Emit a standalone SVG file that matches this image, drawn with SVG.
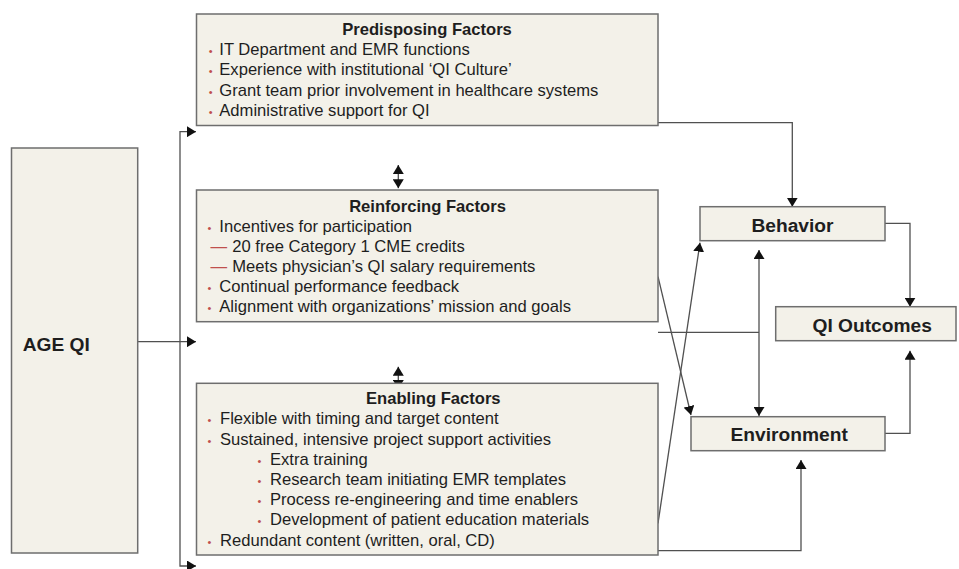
<svg xmlns="http://www.w3.org/2000/svg" width="959" height="569" viewBox="0 0 959 569">
  <style>
    .box { fill: #f3f1e9; stroke: #6e6e6e; stroke-width: 1.5; }
    .txt { font-family: "Liberation Sans", Arial, sans-serif; font-size: 16.6px; fill: #1e1e1e; }
    .ttl { font-family: "Liberation Sans", Arial, sans-serif; font-size: 16.6px; font-weight: bold; fill: #1e1e1e; text-anchor: middle; }
    .big { font-family: "Liberation Sans", Arial, sans-serif; font-size: 19.2px; font-weight: bold; fill: #1e1e1e; }
    .mid { text-anchor: middle; }
    .bul { font-family: "Liberation Sans", Arial, sans-serif; font-size: 11px; fill: #c0504d; text-anchor: middle; }
    .dash { font-family: "Liberation Sans", Arial, sans-serif; font-size: 16.6px; fill: #c0504d; }
    .con { fill: none; stroke: #505050; stroke-width: 1.3; }
    .arr { marker-end: url(#head); }
    .both { marker-start: url(#head); marker-end: url(#head); }
  </style>
  <defs>
    <marker id="head" viewBox="0 0 9 11" refX="9" refY="5.5" markerWidth="9" markerHeight="11" markerUnits="userSpaceOnUse" orient="auto-start-reverse">
      <path d="M0,0 L9,5.5 L0,11 z" fill="#111"/>
    </marker>
  </defs>

  <rect width="959" height="569" fill="#ffffff"/>

  <!-- connectors -->
  <g id="connectors">
    <!-- program to the three factor groups -->
    <path class="con" d="M137.7,341.7 H196" marker-end="url(#head)"/>
    <path class="con both" d="M196,131.7 H180 V566 H196"/>
    <!-- links between factor groups -->
    <path class="con both" d="M398.3,165 V188.3"/>
    <path class="con both" d="M398.3,366.7 V389"/>
    <!-- factors to behavior and environment -->
    <path class="con arr" d="M658,122.7 H792.3 V206.7"/>
    <path class="con arr" d="M658,276.7 L691,415"/>
    <path class="con arr" d="M658,523.3 L700,242.7"/>
    <path class="con" d="M658,332.3 H759"/>
    <path class="con arr" d="M658,550.7 H801 V460"/>
    <path class="con both" d="M759,250 V416"/>
    <!-- behavior and environment to outcomes -->
    <path class="con arr" d="M885,223.3 H910 V306.7"/>
    <path class="con arr" d="M885,433.3 H910 V350.7"/>
  </g>

  <g id="age-qi">
    <rect class="box" x="11.5" y="148" width="126.2" height="405"/>
    <text class="big" x="22.7" y="350.7">AGE QI</text>
  </g>

  <g id="predisposing">
    <rect class="box" x="196.5" y="14" width="461.5" height="111.5"/>
    <text class="ttl" x="427" y="35">Predisposing Factors</text>
    <text class="bul" x="210.7" y="55">•</text>
    <text class="txt" x="219.3" y="55">IT Department and EMR functions</text>
    <text class="bul" x="210.7" y="75.3">•</text>
    <text class="txt" x="219.3" y="75.3">Experience with institutional ‘QI Culture’</text>
    <text class="bul" x="210.7" y="95.6">•</text>
    <text class="txt" x="219.3" y="95.6">Grant team prior involvement in healthcare systems</text>
    <text class="bul" x="210.7" y="116">•</text>
    <text class="txt" x="219.3" y="116">Administrative support for QI</text>
  </g>

  <g id="reinforcing">
    <rect class="box" x="196.5" y="190" width="461.5" height="131.7"/>
    <text class="ttl" x="427.5" y="211.7">Reinforcing Factors</text>
    <text class="bul" x="209.5" y="231.5">•</text>
    <text class="txt" x="219.3" y="231.5">Incentives for participation</text>
    <text class="dash" x="210.5" y="251.7">—</text>
    <text class="txt" x="232.3" y="251.7">20 free Category 1 CME credits</text>
    <text class="dash" x="210.5" y="272.2">—</text>
    <text class="txt" x="232.3" y="272.2">Meets physician’s QI salary requirements</text>
    <text class="bul" x="209.5" y="292.3">•</text>
    <text class="txt" x="219.3" y="292.3">Continual performance feedback</text>
    <text class="bul" x="209.5" y="312.3">•</text>
    <text class="txt" x="219.3" y="312.3">Alignment with organizations’ mission and goals</text>
  </g>

  <g id="enabling">
    <rect class="box" x="196.5" y="383.3" width="461.5" height="171.7"/>
    <text class="ttl" x="433.3" y="404.3">Enabling Factors</text>
    <text class="bul" x="209.5" y="424.3">•</text>
    <text class="txt" x="220" y="424.3">Flexible with timing and target content</text>
    <text class="bul" x="209.5" y="445">•</text>
    <text class="txt" x="220" y="445">Sustained, intensive project support activities</text>
    <text class="bul" x="259.5" y="465">•</text>
    <text class="txt" x="270" y="465">Extra training</text>
    <text class="bul" x="259.5" y="485">•</text>
    <text class="txt" x="270" y="485">Research team initiating EMR templates</text>
    <text class="bul" x="259.5" y="505">•</text>
    <text class="txt" x="270" y="505">Process re-engineering and time enablers</text>
    <text class="bul" x="259.5" y="525">•</text>
    <text class="txt" x="270" y="525">Development of patient education materials</text>
    <text class="bul" x="209.5" y="545.7">•</text>
    <text class="txt" x="220" y="545.7">Redundant content (written, oral, CD)</text>
  </g>

  <g id="behavior">
    <rect class="box" x="700" y="206.7" width="185" height="34"/>
    <text class="big mid" x="792.5" y="231.7">Behavior</text>
  </g>

  <g id="qi-outcomes">
    <rect class="box" x="775.7" y="306.7" width="180.3" height="34"/>
    <text class="big mid" x="872.2" y="332">QI Outcomes</text>
  </g>

  <g id="environment">
    <rect class="box" x="691" y="416.7" width="194" height="34"/>
    <text class="big mid" x="789.2" y="441">Environment</text>
  </g>
</svg>
